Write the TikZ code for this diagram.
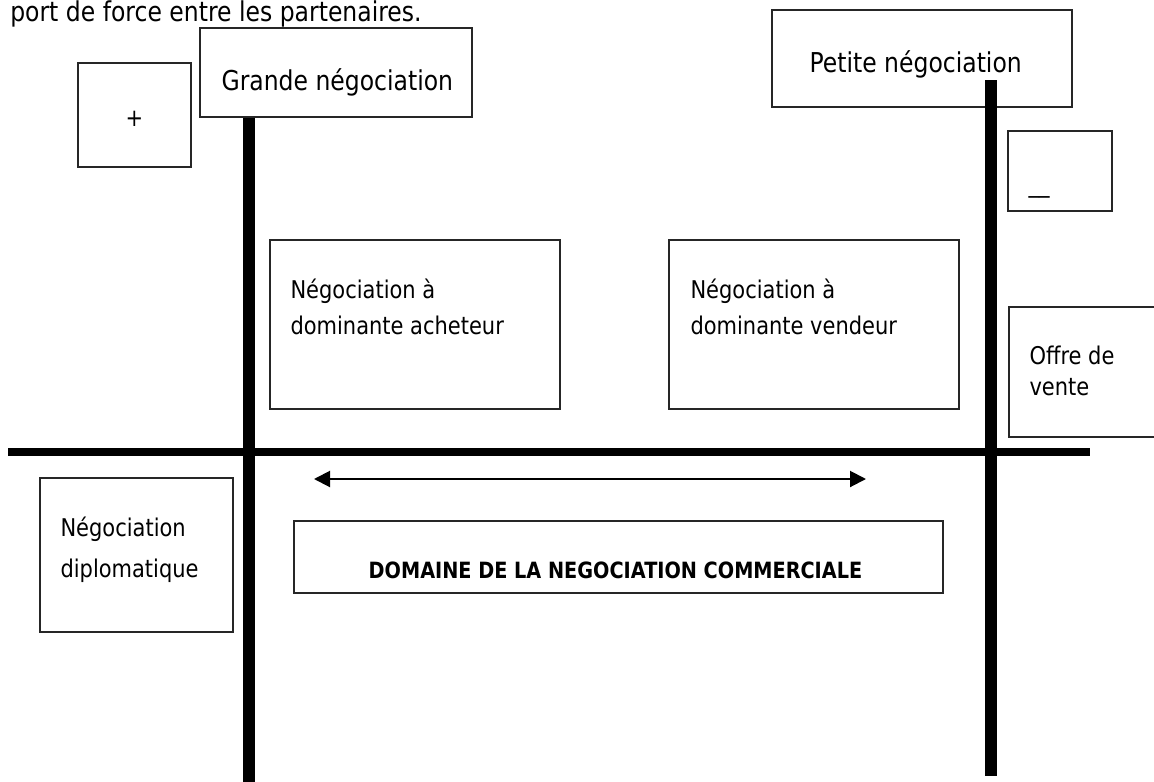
\documentclass[tikz,border=0pt]{standalone}
\usepackage{fontspec}
\setmainfont{DejaVu Sans}[FakeStretch=0.86]
\usetikzlibrary{arrows.meta,positioning,calc}
\newcommand\bodyfont{\fontsize{18.3}{27}\selectfont}
\newcommand\titlefont{\fontsize{20.5}{24}\selectfont}
\tikzset{
  box/.style    = {draw=black!85, line width=1.1pt, rectangle, inner sep=0pt},
  dims/.style 2 args = {minimum width=#1*0.75pt, minimum height=#2*0.75pt},
  lbl/.style    = {inner sep=0pt, align=left, font=\bodyfont},
  ttl/.style    = {inner sep=0pt, font=\titlefont},
  vaxis/.style  = {line width=9pt},
  haxis/.style  = {line width=6pt},
  twoway/.style = {{Triangle[length=12pt,width=12pt]}-{Triangle[length=12pt,width=12pt]}, line width=1.5pt}
}

\begin{document}
\begin{tikzpicture}[x=0.75pt, y=-0.75pt]
  \useasboundingbox (0,0) rectangle (1154,782);
  \node[ttl, anchor=base west] (intro) at (10,21) {port de force entre les partenaires.};
  % cadrans du haut
  \node[box, dims={113}{104}] (plus) at (134.5,115) {};
  \node[lbl] at ($(plus.center)+(0,4)$) {+};
  \node[box, dims={272}{89}] (grande) at (336,72.5) {};
  \node[ttl, anchor=base west] at ($(grande.south west)+(22,-27)$) {Grande négociation};
  \node[box, dims={300}{97}] (petite) at (922,58.5) {};
  \node[ttl, anchor=base west] at ($(petite.south west)+(38,-35)$) {Petite négociation};
  \node[box, dims={104}{80}] (moins) at (1060,171) {};
  \node[lbl, anchor=base west] at ($(moins.south west)+(21,-19)$) {\_\_};
  % negociations
  \node[box, dims={290}{169}] (achat) at (415,324.5) {};
  \node[lbl, anchor=base west] at ($(achat.north west)+(21,95)$) {Négociation à\\dominante acheteur};
  \node[box, dims={290}{169}] (vente) at (814,324.5) {};
  \node[lbl, anchor=base west] at ($(vente.north west)+(22,95)$) {Négociation à\\dominante vendeur};
  \node[box, dims={151}{130}] (offre) at (1084.5,372) {};
  \node[lbl, anchor=base west] at ($(offre.north west)+(21,89)$) {Offre de\\[-3.75pt]vente};
  \node[box, dims={193}{154}] (diplo) at (136.5,555) {};
  \node[lbl, anchor=base west] at ($(diplo.north west)+(21,100)$) {Négociation\\[3.75pt]diplomatique};
  \node[box, dims={649}{72}] (domaine) at (618.5,557) {};
  \node[lbl, anchor=base, font=\fontsize{16.8}{20}\selectfont\bfseries] at ($(domaine.south)+(-3,-15)$) {DOMAINE DE LA NEGOCIATION COMMERCIALE};
  % axes
  \coordinate (lbas) at (249,790);
  \coordinate (rhaut) at (990.5,80);
  \coordinate (rbas) at (990.5,776);
  \coordinate (hg) at (8,451.5);
  \coordinate (hd) at (1090,451.5);
  \coordinate (fg) at (314,479);
  \coordinate (fd) at (866,479);
  \draw[vaxis] (grande.south -| lbas) -- (lbas);
  \draw[vaxis] (rhaut) -- (rbas);
  \draw[haxis] (hg) -- (hd);
  \draw[twoway] (fg) -- (fd);
\end{tikzpicture}
\end{document}
